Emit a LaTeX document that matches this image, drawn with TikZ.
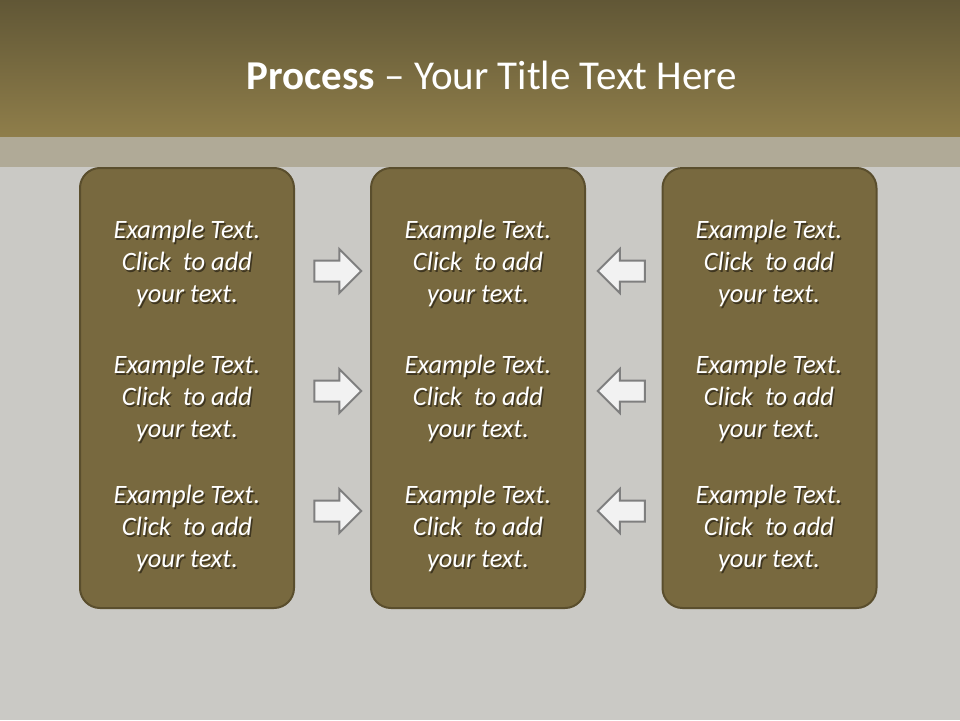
\documentclass[tikz,border=0pt]{standalone}
\usepackage{fontspec}
\setmainfont{Carlito}
\usetikzlibrary{shapes.arrows}
\definecolor{bg}{HTML}{CAC9C5}
\definecolor{hdtop}{HTML}{615736}
\definecolor{hdbot}{HTML}{8F7E4A}
\definecolor{band}{HTML}{B0AA97}
\definecolor{boxfill}{HTML}{78693F}
\definecolor{boxline}{HTML}{5A4E2D}
\definecolor{arrfill}{HTML}{F2F2F2}
\definecolor{arrline}{HTML}{7F7F7F}
\definecolor{shad}{HTML}{3E3520}
\newcommand\shline[1]{\makebox[0pt][l]{\hspace{1.5pt}\raisebox{-2pt}{\textcolor{shad}{#1}}}#1}
\tikzset{
  panel/.style={draw=boxline, line width=2pt, fill=boxfill, rounded corners=20pt, minimum width=214pt, minimum height=440pt, inner sep=0pt},
  btext/.style={text=white, align=center, inner sep=0pt, font=\fontsize{26.5}{32}\selectfont\itshape},
  parrow/.style={single arrow, draw=arrline, line width=2pt, fill=arrfill, minimum height=47pt, inner xsep=0pt, inner ysep=9.5pt, single arrow head extend=11.5pt, single arrow tip angle=90},
}
\begin{document}
\begin{tikzpicture}[x=1pt,y=-1pt]
\useasboundingbox (0,0) rectangle (960,720);
\fill[bg] (0,0) rectangle (960,720);
\shade[top color=hdtop, bottom color=hdbot] (0,0) rectangle (960,137);
\fill[band] (0,137) rectangle (960,167);
\node[text=white, font=\fontsize{41}{48}\selectfont] (title) at (492,75) {\textbf{Process} – Your Title Text Here};
\node[panel] (p1) at (187,388) {};
\node[panel] (p2) at (478,388) {};
\node[panel] (p3) at (769.5,388) {};
\foreach \y [count=\i] in {264,399,529}{
  \foreach \x/\c in {187/a,478/b,769/c}{
    \node[btext] (t\c\i) at (\x,\y) {\shline{Example Text.}\\\shline{Click~ to add}\\\shline{your text.}};
  }
}
\node[parrow] (ra1) at (332.5,271) {};
\node[parrow] (ra2) at (332.5,391) {};
\node[parrow] (ra3) at (332.5,511) {};
\node[parrow, shape border rotate=180] (la1) at (626.5,271) {};
\node[parrow, shape border rotate=180] (la2) at (626.5,391) {};
\node[parrow, shape border rotate=180] (la3) at (626.5,511) {};
\end{tikzpicture}
\end{document}
